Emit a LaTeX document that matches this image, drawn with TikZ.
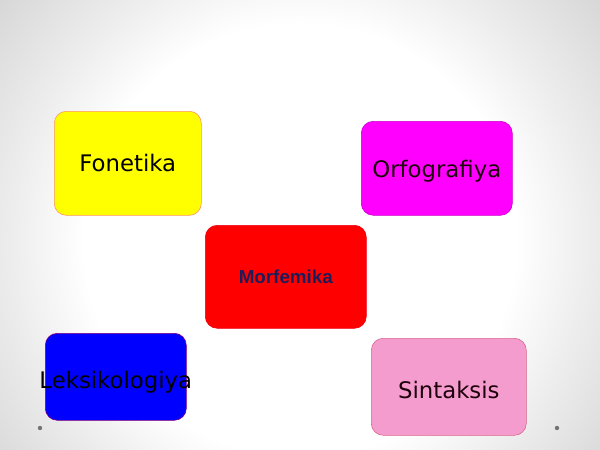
\documentclass[tikz,border=0pt]{standalone}
\usepackage{fontspec}
\setmainfont{DejaVu Sans}
\newfontfamily\boldarial{Liberation Sans}
\pgfdeclareradialshading{bgshade}{\pgfpoint{0bp}{0bp}}{color(0bp)=(white); color(13.5bp)=(white); color(18bp)=(black!7); color(25bp)=(black!17); color(50bp)=(black!17)}
\definecolor{navytext}{HTML}{1C1C5A}
\definecolor{pinkbox}{HTML}{F59CCF}
\definecolor{ybox}{HTML}{FFFF00}
\definecolor{mbox}{HTML}{FF00FF}
\definecolor{rbox}{HTML}{FF0000}
\definecolor{bbox}{HTML}{0000FF}
\tikzset{
  box/.style={draw, line width=0.6pt, rounded corners=12pt, anchor=north west, inner sep=0pt},
  lbl/.style={font=\fontsize{22.8}{26}\selectfont, text=black},
  dot/.style={fill=black!55, draw=none}
}
\begin{document}
\begin{tikzpicture}[x=1pt,y=-1pt]
\useasboundingbox (0,0) rectangle (600,450);
\fill[black!17] (0,0) rectangle (600,450);
\shade[shading=bgshade] (300,240) circle (400);
% boxes
\node[box, fill=ybox, draw=red!40!orange!60, minimum width=147pt, minimum height=104pt] (fon) at (54,111) {};
\node[lbl] at (fon.center) {Fonetika};
\node[box, fill=mbox, draw=mbox!80!black, minimum width=151pt, minimum height=94pt] (orf) at (361,121) {};
\node[lbl, text=black!85!purple] at ([yshift=-3pt]orf.center) {Orfografiya};
\node[box, fill=rbox, draw=rbox!75!purple, minimum width=161pt, minimum height=103pt] (mor) at (205,225) {};
\node[font=\boldarial\bfseries\fontsize{18.8}{22}\selectfont, text=navytext] at (mor.center) {Morfemika};
\node[box, fill=bbox, draw=violet, minimum width=141pt, minimum height=87pt] (lek) at (45,333) {};
\node[lbl] at ([yshift=-5pt]lek.center) {Leksikologiya};
\node[box, fill=pinkbox, draw=purple!60, minimum width=155pt, minimum height=97pt] (sin) at (371,338) {};
\node[lbl, text=black!85!purple] at ([yshift=-3pt]sin.center) {Sintaksis};
% dots
\fill[dot] (40,428) circle (2.2);
\fill[dot] (557,428) circle (2.2);
\end{tikzpicture}
\end{document}
